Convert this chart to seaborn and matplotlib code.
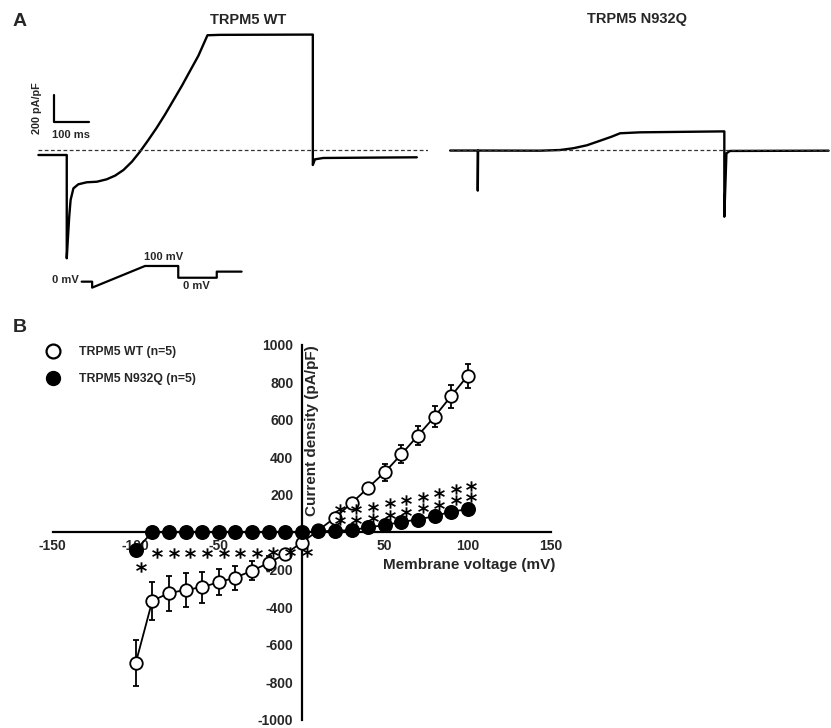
import matplotlib
matplotlib.use("Agg")
import matplotlib.pyplot as plt
from matplotlib.lines import Line2D
import seaborn as sns

# ---- Panel A: representative traces (time in ms, current density in pA/pF) ----
wt_time = [1, 82, 82, 85, 89, 93, 101, 115, 139, 168, 196, 220, 244, 268, 291,
           315, 339, 363, 387, 411, 434, 458, 484, 520, 785, 785, 791, 815, 1082]
wt_current = [-37, -37, -802, -667, -494, -370, -284, -254, -239, -235, -217, -190,
              -148, -87, -13, 74, 165, 264, 370, 476, 585, 698, 850, 853, 855,
              -111, -69, -59, -54]

mut_time = [0, 79, 79, 80, 257, 314, 352, 391, 429, 462, 486, 543, 784, 784, 790, 800, 1082]
mut_current = [-4, -4, -301, -4, -5, 0, 13, 35, 69, 99, 124, 131, 138, -494, -25, -7, -5]

# voltage protocol cartoon (ms, schematic level)
proto_time = [0, 30, 30, 181, 276, 276, 386, 386, 457]
proto_level = [0, 0, -38, 100, 100, 25, 25, 64, 64]

# ---- Panel B: I-V relationship ----
voltage = [-100, -90, -80, -70, -60, -50, -40, -30, -20, -10, 0,
           10, 20, 30, 40, 50, 60, 70, 80, 90, 100]
wt_mean = [-699, -366, -325, -308, -293, -267, -242, -206, -164, -117, -55,
           10, 78, 155, 238, 320, 416, 516, 617, 727, 836]
wt_sem = [122, 102, 93, 90, 83, 70, 64, 51, 35, 18, 10,
          8, 10, 14, 20, 44, 48, 52, 57, 62, 65]
mut_mean = [-94, 0, 0, 0, 0, 0, 0, 0, 0, 0, 0,
            5, 8, 11, 26, 38, 55, 68, 86, 110, 123]

# significance marks
star_neg_v = [-97, -87, -77, -67, -57, -47, -37, -27, -17, -7, 3]
star_neg_y = [-188, -110, -110, -110, -110, -110, -110, -110, -108, -105, -108]
star_pos_v = [23, 33, 43, 53, 63, 73, 83, 93, 102]
star_pos_hi = [124, 124, 137, 158, 170, 190, 208, 230, 248]
star_pos_lo = [63, 63, 78, 94, 110, 130, 148, 170, 186]

sns.set_style("white")
plt.rcParams['font.family'] = ['Liberation Sans', 'DejaVu Sans']
plt.rcParams['font.weight'] = 'bold'
plt.rcParams['axes.labelweight'] = 'bold'

W, H = 831, 728
fig = plt.figure(figsize=(W / 100, H / 100), dpi=100)


def box(x0, y0, x1, y1):
    # pixel box -> figure fraction
    return [x0 / W, 1 - y1 / H, (x1 - x0) / W, (y1 - y0) / H]


# traces
axL = fig.add_axes(box(30, 20, 428, 300))
axR = fig.add_axes(box(440, 20, 831, 300))
for ax in (axL, axR):
    ax.set_ylim(-1111, 963)
    ax.set_axis_off()
axL.set_xlim(-23, 1114)
axR.set_xlim(-29, 1089)

sns.lineplot(x=wt_time, y=wt_current, ax=axL, color='black', lw=1.7,
             sort=False, estimator=None)
sns.lineplot(x=mut_time, y=mut_current, ax=axR, color='black', lw=1.7,
             sort=False, estimator=None)
axL.hlines(0, 0, 1114, colors='#333333', lw=0.9, linestyles=(0, (3, 2)))
axR.hlines(0, 0, 1089, colors='#333333', lw=0.9, linestyles=(0, (3, 2)))

# scale bar
axL.plot([46, 46, 146], [407, 210, 210], color='black', lw=1.6)
axL.text(-4, 310, '200 pA/pF', rotation=90, ha='center', va='center', fontsize=7.8)
axL.text(93, 111, '100 ms', ha='center', va='center', fontsize=8)

fig.text(248 / W, 1 - 20 / H, 'TRPM5 WT', ha='center', va='center', fontsize=10.5)
fig.text(637 / W, 1 - 19 / H, 'TRPM5 N932Q', ha='center', va='center', fontsize=10.5)
fig.text(20 / W, 1 - 21 / H, 'A', ha='center', va='center', fontsize=14)
fig.text(20 / W, 1 - 328 / H, 'B', ha='center', va='center', fontsize=14)

# protocol cartoon
axP = fig.add_axes(box(75, 255, 250, 295))
axP.set_xlim(-19, 481)
axP.set_ylim(-85, 170)
axP.set_axis_off()
sns.lineplot(x=proto_time, y=proto_level, ax=axP, color='black', lw=1.6,
             sort=False, estimator=None)
axP.text(-8, 11, '0 mV', ha='right', va='center', fontsize=8)
axP.text(233, 160, '100 mV', ha='center', va='center', fontsize=8)
axP.text(327, -27, '0 mV', ha='center', va='center', fontsize=8)
for a in (axL, axR, axP):
    for ln in a.lines:
        ln.set_clip_on(False)

# ---- Panel B ----
ax = fig.add_axes(box(52.7, 345, 550.7, 719.5))
ax.set_xlim(-150, 150)
ax.set_ylim(-1000, 1000)
for s in ('top', 'right'):
    ax.spines[s].set_visible(False)
ax.spines['left'].set_position(('data', 0))
ax.spines['bottom'].set_position(('data', 0))
for s in ('left', 'bottom'):
    ax.spines[s].set_linewidth(1.6)
    ax.spines[s].set_color('black')
ax.set_xticks([-150, -100, -50, 0, 50, 100, 150])
ax.set_xticklabels(['-150', '-100', '-50', '0', '50', '100', '150'])
ax.set_yticks([-1000, -800, -600, -400, -200, 200, 400, 600, 800, 1000])
ax.set_yticklabels(['-1000', '-800', '-600', '-400', '-200', '200', '400', '600', '800', '1000'])
ax.tick_params(axis='both', direction='out', length=3, width=1.4, color='black',
               labelsize=10, pad=2)
ax.tick_params(axis='y', pad=3)
ax.patch.set_alpha(0)

ax.errorbar(voltage, wt_mean, yerr=wt_sem, fmt='none', ecolor='black',
            elinewidth=1.3, capsize=2.5, capthick=1.3, zorder=2)
sns.lineplot(x=voltage, y=wt_mean, ax=ax, color='black', lw=1.3, marker='o',
             markersize=9, markerfacecolor='white', markeredgecolor='black',
             markeredgewidth=1.3, zorder=3, estimator=None)
sns.lineplot(x=voltage, y=mut_mean, ax=ax, color='black', lw=1.3, marker='o',
             markersize=9.5, markerfacecolor='black', markeredgecolor='black',
             markeredgewidth=1.3, zorder=4, estimator=None)

for xs, ys in ((star_neg_v, star_neg_y), (star_pos_v, star_pos_hi), (star_pos_v, star_pos_lo)):
    ax.scatter(xs, ys, marker='$*$', s=60, color='black', linewidths=0, zorder=6)

ax.text(6.5, 1000, 'Current density (pA/pF)', rotation=90, ha='center', va='top',
        fontsize=11)
ax.text(152.6, -174, 'Membrane voltage (mV)', ha='right', va='center', fontsize=11)
ax.set_xlabel('')
ax.set_ylabel('')

handles = [
    Line2D([], [], ls='none', marker='o', markersize=10, markerfacecolor='white',
           markeredgecolor='black', markeredgewidth=1.6),
    Line2D([], [], ls='none', marker='o', markersize=10, markerfacecolor='black',
           markeredgecolor='black'),
]
fig.legend(handles, ['TRPM5 WT (n=5)', 'TRPM5 N932Q (n=5)'], loc='upper left',
           bbox_to_anchor=(47 / W, 1 - 346 / H), frameon=False, fontsize=8.8,
           handlelength=1.0, handletextpad=1.6, labelspacing=1.25,
           borderpad=0, borderaxespad=0)

fig.savefig('out.png', dpi=100)
